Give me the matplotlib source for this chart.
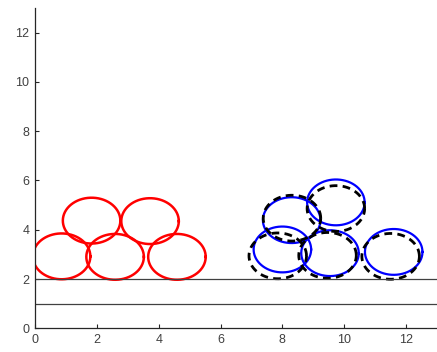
import numpy as np
import matplotlib
matplotlib.use("Agg")
import matplotlib.pyplot as plt

plt.rcParams['font.family'] = ['Liberation Sans', 'DejaVu Sans']

# circle centres (data units)
red_x = [0.86, 2.59, 4.59, 1.83, 3.72]
red_y = [2.92, 2.90, 2.90, 4.37, 4.35]
blue_x = [8.00, 8.30, 9.73, 9.54, 11.60]
blue_y = [3.20, 4.39, 5.11, 3.05, 3.10]
dash_x = [7.85, 8.31, 9.73, 9.46, 11.50]
dash_y = [2.94, 4.47, 4.86, 2.96, 2.92]
radius = 0.93
hlines_y = [1, 2]
xticks = [0, 2, 4, 6, 8, 10, 12]
yticks = [0, 2, 4, 6, 8, 10, 12]

fig = plt.figure(figsize=(4.37, 3.52), dpi=100)
ax = fig.add_axes([35/437, (352-328.3)/352, 1-35/437, (328.3-8)/352])

t = np.linspace(0, 2*np.pi, 200)
for cx, cy in zip(red_x, red_y):
    ax.plot(cx + radius*np.cos(t), cy + radius*np.sin(t), color='#ff0000', lw=1.8)
for cx, cy in zip(blue_x, blue_y):
    ax.plot(cx + radius*np.cos(t), cy + radius*np.sin(t), color='#0000ff', lw=1.6)
for cx, cy in zip(dash_x, dash_y):
    ax.plot(cx + radius*np.cos(t), cy + radius*np.sin(t), color='black', lw=2.0,
            dashes=(2.8, 1.9))
for yv in hlines_y:
    ax.axhline(yv, color='#404040', lw=0.9)

ax.set_xlim(0, 13)
ax.set_ylim(0, 13)
ax.set_xticks(xticks)
ax.set_yticks(yticks)
ax.spines['top'].set_visible(False)
ax.spines['right'].set_visible(False)
for s in ['left', 'bottom']:
    ax.spines[s].set_color('#262626')
    ax.spines[s].set_linewidth(0.9)
ax.tick_params(direction='in', length=3, width=0.8, color='#262626',
               labelsize=9, labelcolor='#404040', pad=4)
fig.savefig('out.png', dpi=100)
